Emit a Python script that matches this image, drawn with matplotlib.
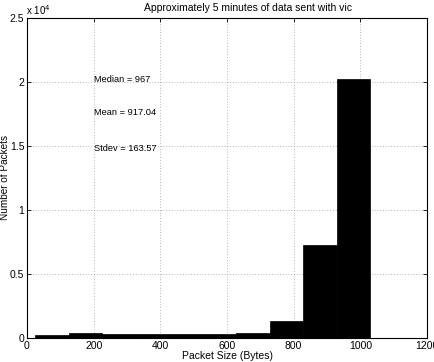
import matplotlib

matplotlib.use("Agg")
import matplotlib.pyplot as plt
import numpy as np

# histogram of packet sizes (10 bins, matlab hist style)
bin_edges = [24, 125, 225, 326, 426, 527, 628, 728, 829, 929, 1030]
counts = [230, 370, 290, 300, 310, 330, 400, 1330, 7300, 20200]

stats_labels = ["Median = 967", "Mean = 917.04", "Stdev = 163.57"]
stats_y = [2.02e4, 1.76e4, 1.48e4]

x_ticks = [0, 200, 400, 600, 800, 1000, 1200]
y_ticks = [0, 5000, 10000, 15000, 20000, 25000]
y_tick_labels = ["0", "0.5", "1", "1.5", "2", "2.5"]

plt.rcParams["font.family"] = ["Liberation Sans", "DejaVu Sans"]

fig = plt.figure(figsize=(4.34, 3.62), dpi=100)
ax = fig.add_axes([27 / 434, 24 / 362, 400 / 434, 320 / 362])

edges = np.array(bin_edges)
ax.bar(edges[:-1], counts, width=np.diff(edges), align="edge",
       color="black", edgecolor="black", linewidth=0.5, zorder=2)

ax.set_xlim(0, 1200)
ax.set_ylim(0, 25000)
ax.set_xticks(x_ticks)
ax.set_yticks(y_ticks)
ax.set_yticklabels(y_tick_labels)
ax.tick_params(direction="in", top=True, right=True, labelsize=7.5,
               length=3, width=0.6, pad=2)
ax.grid(True, linestyle=(0, (1, 3)), color="#777777", linewidth=0.5, zorder=0)
ax.set_axisbelow(True)
for s in ax.spines.values():
    s.set_linewidth(0.8)

for txt, y in zip(stats_labels, stats_y):
    ax.text(200, y, txt, fontsize=6.7, va="center", ha="left", zorder=3)

ax.set_xlabel("Packet Size (Bytes)", fontsize=7.5, labelpad=0)
ax.set_ylabel("Number of Packets", fontsize=7.2, labelpad=0)
fig.text(26 / 434, 1 - 10 / 362, r"x 10$^4$", fontsize=7, ha="left", va="center")
fig.text(248 / 434, 1 - 8 / 362, "Approximately 5 minutes of data sent with vic",
         fontsize=7.5, ha="center", va="center")

fig.savefig("out.png", dpi=100)
